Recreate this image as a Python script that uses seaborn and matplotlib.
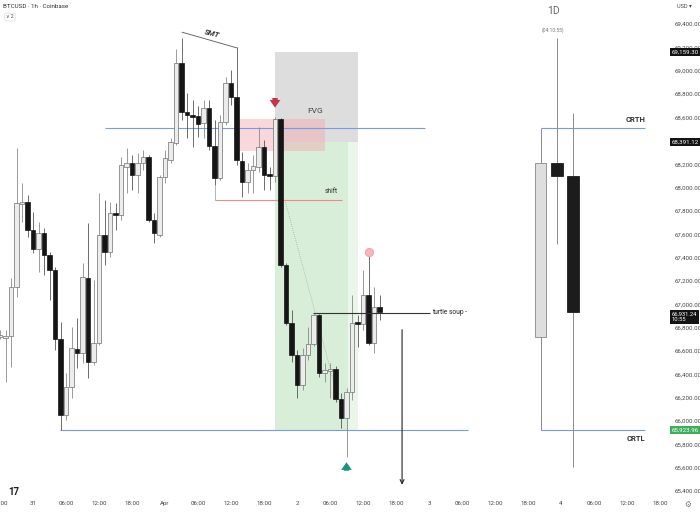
import matplotlib
matplotlib.use("Agg")
import matplotlib.pyplot as plt
import seaborn as sns
import numpy as np

# hourly BTCUSD candles, hour offset from 31 Mar 00:00
hours = list(range(-6, 64))
opens = [66720, 66711, 66728, 67148, 67858, 67876, 67636, 67473, 67610, 67422,
         67293, 66702, 66051, 66291, 66617, 66582, 67225, 66505, 66668, 67593,
         67448, 67782, 67764, 68176, 68210, 68107, 68210, 68261, 67722, 67593,
         68090, 68236, 68381, 69066, 68647, 68621, 68612, 68553, 68681, 68356,
         68081, 68561, 68895, 68775, 68227, 68047, 68150, 68176, 68347, 68107,
         68099, 68587, 67336, 66839, 66565, 66308, 66565, 66660, 66908, 66411,
         66428, 66445, 66189, 66026, 66248, 66839, 66831, 67079, 66668, 66976]
highs = [66779, 66779, 67225, 68338, 68039, 67936, 67790, 67705, 67653, 67448,
         67319, 66848, 66411, 66805, 66882, 67353, 67696, 67208, 67953, 67893,
         67876, 67867, 68261, 68338, 68278, 68296, 68321, 68278, 67782, 68107,
         68321, 68424, 69186, 69280, 68810, 68750, 68698, 68750, 68750, 68578,
         68621, 68947, 69006, 69203, 68304, 68210, 68278, 68518, 68407, 68176,
         68604, 68596, 67353, 66950, 66608, 66625, 66805, 66916, 66916, 66497,
         66497, 66471, 66240, 66283, 67079, 66908, 67293, 67448, 67148, 67079]
lows = [66700, 66334, 66463, 67062, 67705, 67576, 67439, 67276, 67251, 67036,
        66608, 65924, 66009, 66197, 66454, 66497, 66368, 66480, 66651, 67336,
        67405, 67636, 67722, 67953, 67979, 67953, 68150, 67705, 67525, 67576,
        68039, 68210, 68364, 68578, 68424, 68347, 68433, 68424, 68321, 68021,
        68064, 68535, 68706, 68193, 67919, 67953, 67953, 68133, 67979, 67979,
        68047, 67319, 66822, 66505, 66197, 66266, 66523, 66643, 66377, 66334,
        66197, 66163, 65940, 65692, 66180, 66634, 66779, 66651, 66582, 66865]
closes = [66728, 66728, 67148, 67867, 67867, 67636, 67473, 67610, 67422, 67293,
          66702, 66051, 66291, 66625, 66582, 67233, 66505, 66668, 67593, 67448,
          67782, 67764, 68193, 68210, 68107, 68210, 68261, 67722, 67610, 68090,
          68253, 68390, 69066, 68647, 68621, 68604, 68544, 68681, 68356, 68081,
          68561, 68895, 68775, 68236, 68047, 68150, 68184, 68347, 68107, 68099,
          68587, 67336, 66839, 66565, 66308, 66565, 66660, 66908, 66411, 66437,
          66445, 66189, 66026, 66248, 66839, 66831, 67079, 66668, 66976, 66931.24]

# daily candles of the CRT overlay
day_slots = [92.3, 95.3, 98.2]
day_open = [66720, 68210, 68099]
day_high = [68510, 69280, 68638]
day_low = [65923.96, 67516, 65606]
day_close = [68210, 68099, 66931.24]

crt_high = 68510
crt_low = 65923.96
stop_price = 69159.30
entry_price = 68391.12
last_price = 66931.24

price_ticks = list(range(65400, 69401, 200))
time_ticks = list(range(-6, 115, 6))
time_labels = ["18:00", "31", "06:00", "12:00", "18:00", "Apr", "06:00", "12:00",
               "18:00", "2", "06:00", "12:00", "18:00", "3", "06:00", "12:00",
               "18:00", "4", "06:00", "12:00", "18:00"]

sns.set_theme(style="white")
plt.rcParams['font.family'] = ['Roboto', 'DejaVu Sans']

fig = plt.figure(figsize=(7, 5.13), dpi=100)
ax = fig.add_axes([0, 16 / 513, 668 / 700, 497 / 513])
ax.set_xlim(-6, 115.45)
ax.set_ylim(65348.8, 69605.6)
for s in ax.spines.values():
    s.set_visible(False)

# position tool boxes and FVG
ax.fill_between([44, 59.1], entry_price, stop_price, color='#dddddd', lw=0, zorder=1)
ax.fill_between([44, 57.3], crt_low, entry_price, color='#d8eed8', lw=0, zorder=1)
ax.fill_between([57.3, 59.1], crt_low, entry_price, color='#ebf6eb', lw=0, zorder=1)
ax.fill_between([36.7, 53.1], 68310, 68587, color='#f2a7ae', alpha=0.45, lw=0, zorder=1.5)
ax.text(51.3, 68655, "FVG", fontsize=6, color='#444', ha='center', va='center', zorder=5)

# candles
o = np.array(opens); c = np.array(closes)
up = c >= o
wick_col = np.where(up, '#8a8a8a', '#555555')
ax.vlines(hours, lows, highs, colors=wick_col, lw=0.6, zorder=3)
bot = np.minimum(o, c)
ht = np.maximum(np.abs(c - o), 14)
ax.bar(np.array(hours)[up], ht[up], bottom=bot[up], width=0.75,
       color='#ececec', edgecolor='#707070', lw=0.5, zorder=4)
ax.bar(np.array(hours)[~up], ht[~up], bottom=bot[~up], width=0.75,
       color='#151515', edgecolor='#151515', lw=0.5, zorder=4)

# daily candles
do = np.array(day_open); dc = np.array(day_close)
ax.vlines(day_slots, day_low, day_high, colors='#8a8a8a', lw=0.7, zorder=3)
for x, op, cl in zip(day_slots, do, dc):
    if cl >= op:
        ax.bar(x, cl - op, bottom=op, width=2.1, color='#dedede', edgecolor='#888', lw=0.6, zorder=4)
    else:
        ax.bar(x, op - cl, bottom=cl, width=2.1, color='#1c1c1c', edgecolor='#1c1c1c', lw=0.6, zorder=4)

# CRT lines
ax.hlines(crt_high, 13.1, 71.3, colors='#7b9ae6', lw=0.8, zorder=2)
ax.hlines(crt_low, 4.9, 79.1, colors='#7b9ae6', lw=0.8, zorder=2)
ax.hlines([crt_high, crt_low], 92.3, 111.3, colors='#7b9ae6', lw=0.8, zorder=2)
ax.text(111.3, crt_high + 40, "CRTH", fontsize=5.5, fontweight='bold', color='#333', ha='right', va='bottom')
ax.text(111.3, crt_low - 40, "CRTL", fontsize=5.5, fontweight='bold', color='#333', ha='right', va='top')
ax.text(94.6, 69512, "1D", fontsize=7.5, color='#666', ha='center', va='center')
ax.text(94.6, 69345, "(04:10:55)", fontsize=3.6, color='#777', ha='center', va='center')

# SMT
ax.plot([27.1, 37.1], [69330, 69195], color='#555', lw=0.6, zorder=3)
ax.text(32.6, 69318, "SMT", fontsize=5.5, fontweight='bold', fontstyle='italic',
        color='#333', rotation=-14, ha='center', va='center')

# shift
ax.hlines(67893, 33.1, 56.2, colors='#f08a8a', lw=0.8, zorder=2)
ax.vlines(33.1, 67893, 68021, colors='#999', lw=0.5, zorder=2)
ax.text(54.3, 67935, "shift", fontsize=4.8, color='#333', ha='center', va='bottom')

# dotted path
sns.lineplot(x=[45.8, 55.8], y=[67893, 66140], color='#aaaaaa', lw=0.6,
             linestyle=(0, (1, 1.5)), ax=ax, zorder=2)

# turtle soup
ax.hlines(66925, 50.9, 72.2, colors='#333', lw=0.8, zorder=5)
ax.text(72.6, 66925, "turtle soup -", fontsize=4.8, color='#222', ha='left', va='center')
ax.annotate('', xy=(67.1, 65430), xytext=(67.1, 66805),
            arrowprops=dict(arrowstyle='->', color='#222', lw=0.8, mutation_scale=7))

# markers
arrow_style = 'simple,head_width=0.7,head_length=0.5,tail_width=0.35'
ax.annotate('', xy=(44, 68660), xytext=(44, 68790),
            arrowprops=dict(arrowstyle=arrow_style, color='#c8334a', lw=0, mutation_scale=11))
ax.annotate('', xy=(57, 65670), xytext=(57, 65550),
            arrowprops=dict(arrowstyle=arrow_style, color='#16957a', lw=0, mutation_scale=11))
ax.plot(61, 67448, 'o', ms=6, mfc='#f6b6b8', mec='#eea0a3', mew=0.6, zorder=6)

# axes ticks (68,400 sits under the entry price box)
shown_ticks = [p for p in price_ticks if p != 68400]
ax.yaxis.tick_right()
ax.set_yticks(shown_ticks)
ax.set_yticklabels([f"{p:,.2f}" for p in shown_ticks])
ax.set_xticks(time_ticks)
ax.set_xticklabels(time_labels)
ax.tick_params(axis='y', labelsize=4.4, pad=4.5, length=0, colors='#444')
ax.tick_params(axis='x', labelsize=4.4, pad=3, length=0, colors='#444')
ax.grid(False)

yt = ax.get_yaxis_transform()
for p, txt, col in [(stop_price, "69,159.30", '#131313'), (entry_price, "68,391.12", '#131313'),
                    (crt_low, "65,923.96", '#3dae5a')]:
    ax.text(1.006, p, txt, transform=yt, fontsize=4.4, color='white', ha='left', va='center',
            bbox=dict(boxstyle='square,pad=0.25', fc=col, ec='none'), clip_on=False, zorder=10)
ax.text(1.006, last_price - 40, "66,931.24\n10:55", transform=yt, fontsize=4.2, color='white',
        ha='left', va='center', linespacing=1.1,
        bbox=dict(boxstyle='square,pad=0.3', fc='#131313', ec='none'), clip_on=False, zorder=10)

# chrome texts
fig.text(3 / 700, 1 - 7 / 513, "BTCUSD · 1h · Coinbase", fontsize=4.5, color='#333', va='center')
fig.text(6 / 700, 1 - 17 / 513, "∨ 2", fontsize=3.5, color='#444', va='center',
         bbox=dict(boxstyle='round,pad=0.3', fc='white', ec='#ddd', lw=0.5))
fig.text(677 / 700, 1 - 6 / 513, "USD ▾", fontsize=4, color='#444', va='center')
fig.text(8 / 700, 1 - 492 / 513, "17", fontsize=7, fontweight='bold', color='#222', va='center')
fig.text(688 / 700, 1 - 505 / 513, "⚙", fontsize=5.5, color='#777', va='center', ha='center')

fig.savefig("out.png", dpi=100)
